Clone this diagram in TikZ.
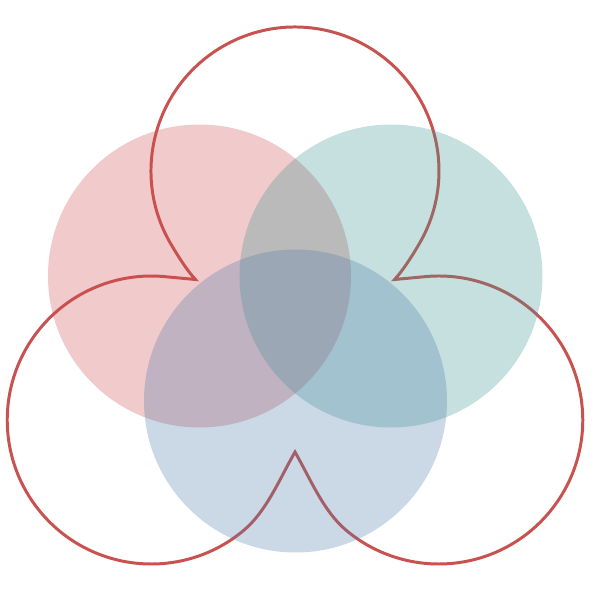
\documentclass[tikz,border=0pt]{standalone}
\definecolor{setred}{RGB}{208,78,82}
\definecolor{setteal}{RGB}{62,152,148}
\definecolor{setblue}{RGB}{82,125,168}
\definecolor{rimred}{RGB}{200,82,80}
\tikzset{
  rim/.style={draw=rimred,line width=1.7pt,line join=miter},
  setdisc/.style={fill=#1,opacity=0.3}
}
\begin{document}
\begin{tikzpicture}[x=0.02cm,y=0.02cm]
        \useasboundingbox(0,0)rectangle(600,600);
        \coordinate(c1)at(195.41,320.5);
        \coordinate(c2)at(394.59,320.5);
        \coordinate(c3)at(295,148);
        \draw[rim](c1)..controls +(-8.2,8.8) and +(7,-12.1)..(170.29,357)arc[start angle=210,end angle=-30,radius=144]
            ..controls +(-7,-12.1) and +(8.2,8.8)..(c2)--(423.71,323.21)arc[start angle=96,end angle=-130,radius=144]
            ..controls +(-23,19.3) and +(15,-26)..(c3)..controls +(-15,-26) and +(23,19.3)..(243.8,69.69)
            arc[start angle=-50,end angle=-276,radius=144]--cycle;
        \coordinate(A)at(199.5,324);
        \coordinate(B)at(391,324);
        \coordinate(C)at(295.5,199);
        \path[setdisc=setred](A)circle[radius=151.5];
        \path[setdisc=setteal](B)circle[radius=151.5];
        \path[setdisc=setblue](C)circle[radius=151.5];
    \end{tikzpicture}
\end{document}
